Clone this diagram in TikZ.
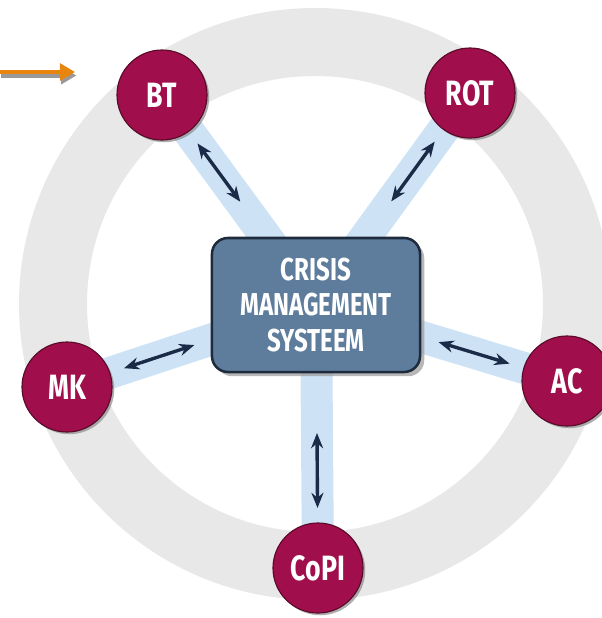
\documentclass[tikz,border=0pt]{standalone}
\usepackage{fontspec}
\newfontfamily\lblfont{Fira Sans}[FakeStretch=0.76]
\usetikzlibrary{arrows.meta,shadows,backgrounds}
\definecolor{ringgray}{HTML}{E8E8E9}
\definecolor{bandblue}{HTML}{CDE2F5}
\definecolor{syscol}{HTML}{5E7C9B}
\definecolor{sysline}{HTML}{1E2B3C}
\definecolor{partycol}{HTML}{A00F4C}
\definecolor{partyline}{HTML}{5A0A28}
\definecolor{arrowcol}{HTML}{1A2B47}
\definecolor{pointcol}{HTML}{E8850E}

\begin{document}
\begin{tikzpicture}[x=0.025cm, y=-0.025cm,
    party/.style={circle, minimum size=2.25cm, inner sep=0pt, fill=partycol, draw=partyline, line width=0.8pt,
        text=white, font=\lblfont\bfseries\fontsize{25}{25}\selectfont,
        drop shadow={shadow xshift=1.6pt, shadow yshift=-1.6pt, fill=black!45, opacity=0.7}},
    sysbox/.style={rectangle, rounded corners=0.4cm, minimum width=5.2cm, minimum height=3.35cm,
        fill=syscol, draw=sysline, line width=1.8pt, text=white, align=center,
        font=\lblfont\bfseries\fontsize{22.5}{25}\selectfont,
        drop shadow={shadow xshift=3pt, shadow yshift=-3pt, fill=black!40, opacity=0.7}},
    band/.style={bandblue, line width=0.8cm},
    twoway/.style={arrowcol, line width=2.4pt, {Stealth[length=0.38cm,width=0.3cm]}-{Stealth[length=0.38cm,width=0.3cm]},
        shorten <=3.2cm, shorten >=1.5cm},
    pointer/.style={line width=0.11cm, -{Triangle[length=0.38cm,width=0.42cm]}}]
    \useasboundingbox (0,0) rectangle (601,618);

    \node[sysbox] (sys) at (316,305) {CRISIS\\MANAGEMENT\\SYSTEEM};

    \node[party] (bt) at (162,95) {BT};
    \node[party] (rot) at (470,93) {ROT};
    \node[party] (mk) at (67,387) {MK};
    \node[party] (ac) at (567,381) {AC};
    \node[party] (copi) at (318,568) {CoPI};

    \begin{scope}[on background layer]
        \draw[ringgray, line width=1.7cm] (315,304) circle (262);
        \foreach \p in {bt,rot,mk,ac,copi}
            \draw[band] (sys.center) -- (\p.center);
    \end{scope}

    \foreach \p in {bt,rot,mk,ac,copi}
        \draw[twoway] (sys.center) -- (\p.center);

    % pointer at the top left
    \coordinate (src) at (0,72);
    \coordinate (aim) at (75,72);
    \draw[pointer, black!40, transform canvas={xshift=1pt, yshift=-2.5pt}] (src) -- (aim);
    \draw[pointer, pointcol] (src) -- (aim);
\end{tikzpicture}
\end{document}
